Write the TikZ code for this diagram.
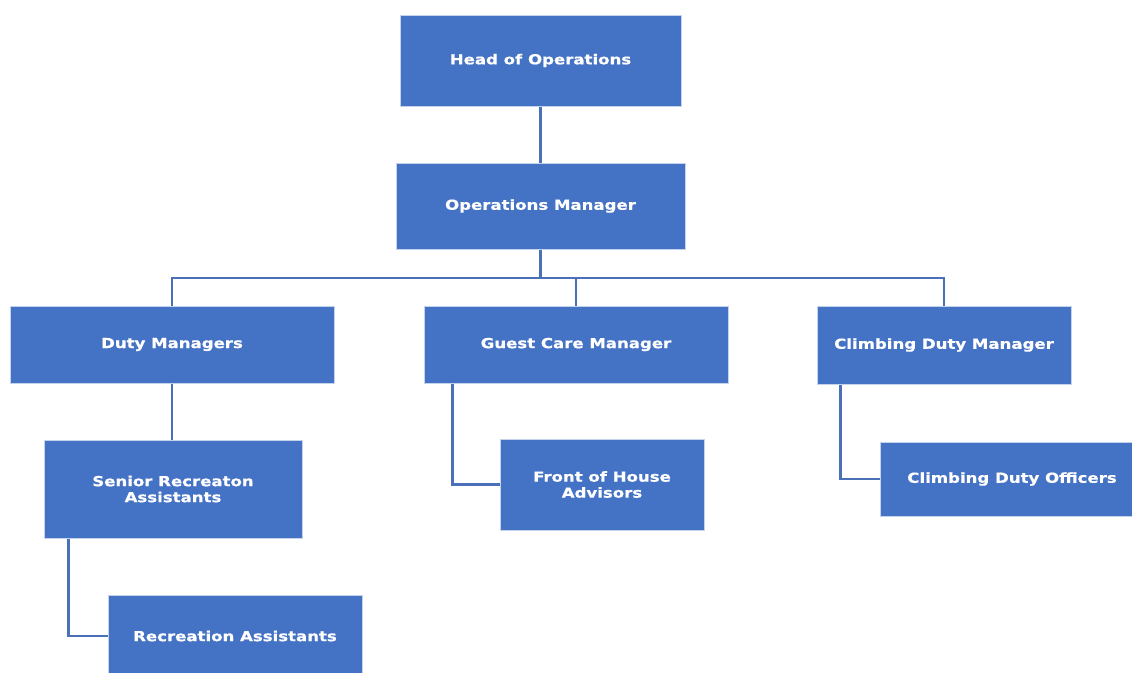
\documentclass[tikz,border=0pt]{standalone}
\usepackage{fontspec}
\newfontfamily\boxfont[FakeStretch=1.2,FakeBold=0.6]{DejaVu Sans Bold}
\definecolor{boxblue}{HTML}{4472C4}
\definecolor{boxedge}{RGB}{196,210,236}
\definecolor{linkblue}{HTML}{4A70B8}
\begin{document}
\begin{tikzpicture}[x=1pt,y=-1pt,
  orgbox/.style={rectangle, fill=boxblue, draw=boxedge, line width=1pt,
    text=white, align=center, inner sep=0pt,
    font=\boxfont\fontsize{13.8}{16}\selectfont},
  link/.style={draw=linkblue, line width=2.4pt}]
\useasboundingbox (0,0) rectangle (1132,672);
\fill[white] (0,0) rectangle (1132,672);

% top of the chart
\node[orgbox, minimum width=281pt, minimum height=91pt] (head) at (540.5,60.5) {Head of Operations};
\node[orgbox, minimum width=289pt, minimum height=86pt] (ops) at (540.5,206) {Operations Manager};

% managers
\node[orgbox, minimum width=324pt, minimum height=77pt] (dm) at (172,344.5) {Duty Managers};
\node[orgbox, minimum width=304pt, minimum height=77pt] (gc) at (576,344.5) {Guest Care Manager};
\node[orgbox, minimum width=254pt, minimum height=78pt] (cdm) at (944,345) {Climbing Duty Manager};

% teams
\node[orgbox, minimum width=258pt, minimum height=98pt] (sra) at (173,489) {Senior Recreaton\\Assistants};
\node[orgbox, minimum width=254pt, minimum height=82pt] (ra) at (235,636) {Recreation Assistants};
\node[orgbox, minimum width=204pt, minimum height=91pt] (foh) at (602,484.5) {Front of House\\Advisors};
\node[orgbox, minimum width=264pt, minimum height=74pt] (cdo) at (1012,479) {Climbing Duty Officers};

% connectors
\coordinate (bus) at (540.5,278);
\draw[link] (head.south) -- (ops.north);
\draw[link] (ops.south) -- (ops.south |- bus);
\draw[link] (dm.north) -- (dm.north |- bus) -- (cdm.north |- bus) -- (cdm.north);
\draw[link] (gc.north) -- (gc.north |- bus);
\draw[link] (dm.south) -- (dm.south |- sra.north);
\draw[link] ([xshift=25pt]sra.south west) |- (ra.west);
\draw[link] ([xshift=29pt]gc.south west) |- (foh.west);
\draw[link] ([xshift=24pt]cdm.south west) |- (cdo.west);
\end{tikzpicture}
\end{document}
